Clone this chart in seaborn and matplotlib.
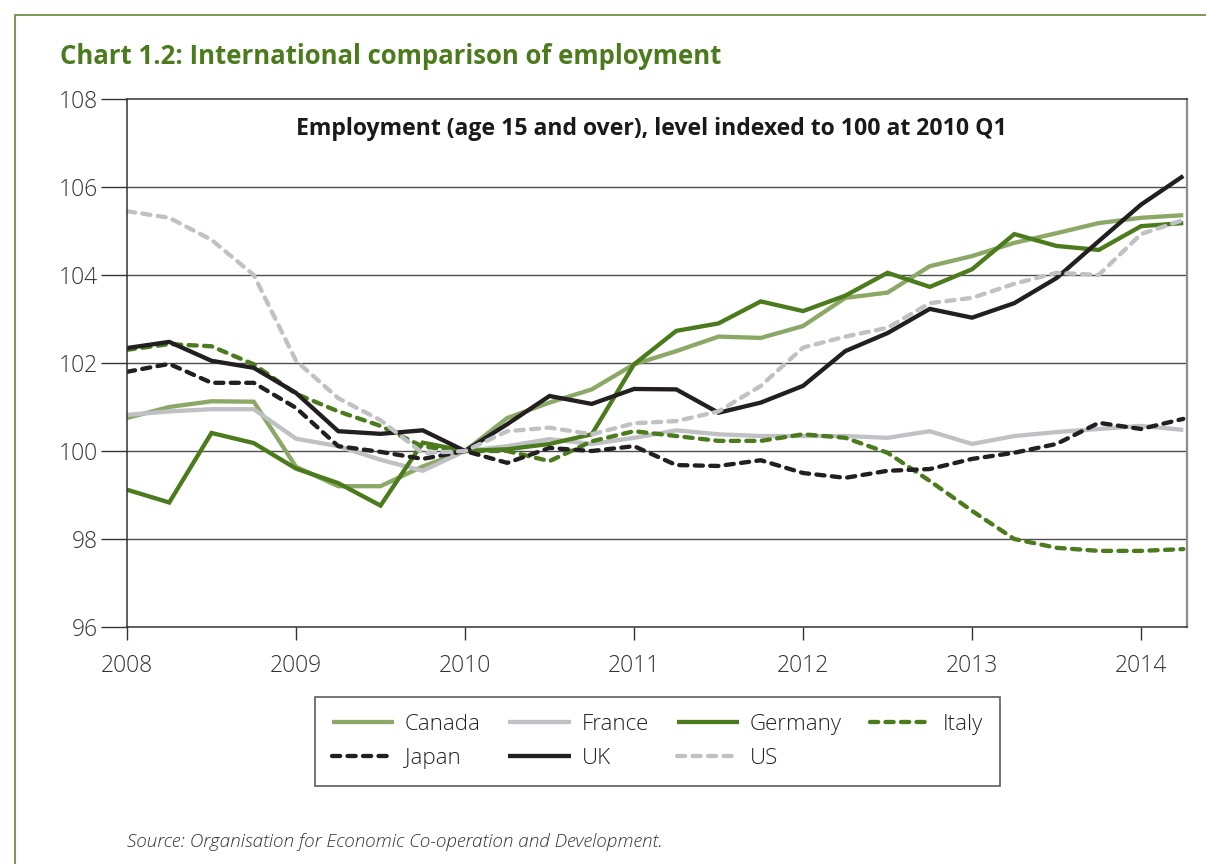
import matplotlib
matplotlib.use("Agg")
import matplotlib.pyplot as plt
import seaborn as sns
import pandas as pd
import numpy as np
from matplotlib.patches import Rectangle

# ---------------- data ----------------
quarters = [2008 + 0.25 * i for i in range(26)]  # 2008 Q1 .. 2014 Q2

canada = [100.75, 101.0, 101.13, 101.12, 99.64, 99.2, 99.2, 99.65, 100.0, 100.75,
          101.1, 101.4, 101.97, 102.27, 102.6, 102.57, 102.84, 103.48, 103.6, 104.2,
          104.43, 104.73, 104.95, 105.18, 105.3, 105.36]
france = [100.82, 100.9, 100.95, 100.95, 100.28, 100.11, 99.8, 99.55, 100.0, 100.11,
          100.27, 100.16, 100.3, 100.47, 100.38, 100.34, 100.34, 100.34, 100.3, 100.45,
          100.16, 100.34, 100.43, 100.5, 100.57, 100.48]
germany = [99.12, 98.83, 100.41, 100.18, 99.6, 99.27, 98.76, 100.19, 100.0, 100.04,
           100.16, 100.38, 101.97, 102.73, 102.9, 103.4, 103.18, 103.53, 104.05, 103.73,
           104.13, 104.93, 104.66, 104.57, 105.11, 105.18]
italy = [102.3, 102.43, 102.38, 101.97, 101.3, 100.9, 100.57, 100.1, 100.0, 100.0,
         99.77, 100.22, 100.45, 100.34, 100.23, 100.23, 100.38, 100.3, 99.96, 99.32,
         98.64, 98.0, 97.8, 97.73, 97.73, 97.77]
japan = [101.8, 101.98, 101.55, 101.55, 100.98, 100.11, 99.98, 99.82, 100.0, 99.73,
         100.07, 100.0, 100.11, 99.68, 99.66, 99.79, 99.5, 99.39, 99.55, 99.59,
         99.82, 99.96, 100.16, 100.64, 100.5, 100.73]
uk = [102.34, 102.48, 102.05, 101.89, 101.32, 100.45, 100.39, 100.47, 100.0, 100.61,
      101.25, 101.07, 101.41, 101.4, 100.87, 101.1, 101.48, 102.27, 102.68, 103.23,
      103.03, 103.36, 103.93, 104.77, 105.6, 106.25]
us = [105.45, 105.3, 104.8, 104.0, 102.05, 101.2, 100.7, 99.95, 100.0, 100.45,
      100.53, 100.38, 100.63, 100.68, 100.9, 101.48, 102.35, 102.6, 102.8, 103.36,
      103.48, 103.8, 104.05, 104.0, 104.93, 105.25]

countries = ["Canada", "France", "Germany", "Italy", "Japan", "UK", "US"]
series = [canada, france, germany, italy, japan, uk, us]
year_ticks = [2008, 2009, 2010, 2011, 2012, 2013, 2014]
y_ticks = [96, 98, 100, 102, 104, 106, 108]

title = "Chart 1.2: International comparison of employment"
subtitle = "Employment (age 15 and over), level indexed to 100 at 2010 Q1"
source = "Source: Organisation for Economic Co-operation and Development."

# ---------------- style ----------------
sns.set_theme(style="white")
plt.rcParams["font.family"] = ["Open Sans", "DejaVu Sans"]

palette = {
    "Canada": "#8ba867",
    "France": "#c0c1c5",
    "Germany": "#4b7b1c",
    "Italy": "#4b7b1c",
    "Japan": "#231f20",
    "UK": "#231f20",
    "US": "#c0c1c5",
}
dash = (1.9, 1.7)
dashes = {"Canada": "", "France": "", "Germany": "", "Italy": dash,
          "Japan": dash, "UK": "", "US": dash}

df = pd.DataFrame({
    "date": np.tile(quarters, len(countries)),
    "value": np.concatenate(series),
    "country": np.repeat(countries, len(quarters)),
})

W, H = 1206, 864
fig = plt.figure(figsize=(W / 100, H / 100), dpi=100)
ax = fig.add_axes([127 / W, 1 - 627 / H, (1187 - 127) / W, (627 - 99) / H])

sns.lineplot(data=df, x="date", y="value", hue="country", style="country",
             palette=palette, dashes=dashes, hue_order=countries,
             style_order=countries, linewidth=3.1, ax=ax, legend=False)

lines = ax.get_lines()
for ln in lines:
    ln.set_dash_capstyle("round")
    ln.set_solid_capstyle("butt")
    ln.set_solid_joinstyle("miter")

ax.set_xlim(2008, 2014.272)
ax.set_ylim(96, 108)
ax.set_xticks(year_ticks)
ax.set_xticklabels([str(y) for y in year_ticks])
ax.set_yticks(y_ticks)
ax.set_yticklabels([str(y) for y in y_ticks])
ax.set_xlabel("")
ax.set_ylabel("")

for y in y_ticks[1:-1]:
    ax.axhline(y, color="#4d4d4d", lw=1.0, zorder=0.5)

for s in ["left", "bottom", "top"]:
    ax.spines[s].set_color("#333333")
    ax.spines[s].set_linewidth(1.1)
ax.spines["right"].set_color("#8c8c8c")
ax.spines["right"].set_linewidth(1.6)

ax.tick_params(axis="y", which="major", direction="out", length=19, width=1.0,
               color="#333333", labelsize=16.5, labelcolor="#333333", pad=2, left=True)
ax.tick_params(axis="x", which="major", direction="out", length=9.5, width=1.0,
               color="#333333", labelsize=16.5, labelcolor="#333333", pad=10, bottom=True)
for lab in ax.get_xticklabels() + ax.get_yticklabels():
    lab.set_fontweight("light")

ax.text(0.4945, 0.9425, subtitle, transform=ax.transAxes, ha="center", va="center",
        fontsize=16.6, fontweight="bold", color="#1a1a1a")

fig.text(60 / W, 1 - 57 / H, title, ha="left", va="center", fontsize=18.5,
         fontweight="bold", color="#4b7b1c")
fig.text(127 / W, 1 - 842 / H, source, ha="left", va="center", fontsize=13.6,
         style="italic", color="#333333", fontweight="light")

# legend (row-major ordering for 4 columns)
order = ["Canada", "Japan", "France", "UK", "Germany", "US", "Italy"]
handles = [lines[countries.index(c)] for c in order]
leg = fig.legend(handles, order, loc="upper left",
                 bbox_to_anchor=(315 / W, 1 - 785 / H, 685 / W, 88 / H),
                 mode="expand", ncol=4, fontsize=16, frameon=True, fancybox=False,
                 handlelength=2.8, columnspacing=1.0, handletextpad=0.5,
                 labelspacing=0.6, borderpad=0.75, borderaxespad=0.0,
                 edgecolor="#333333")
leg.get_frame().set_linewidth(1.2)
for t in leg.get_texts():
    t.set_color("#222222")
    t.set_fontweight("light")

# outer figure border
fig.patches.append(Rectangle((15 / W, -0.1), 1.2, 1 - 15 / H + 0.1,
                             transform=fig.transFigure, fill=False,
                             edgecolor="#6f9042", linewidth=1.3))

fig.savefig("out.png", dpi=100, facecolor="white")
